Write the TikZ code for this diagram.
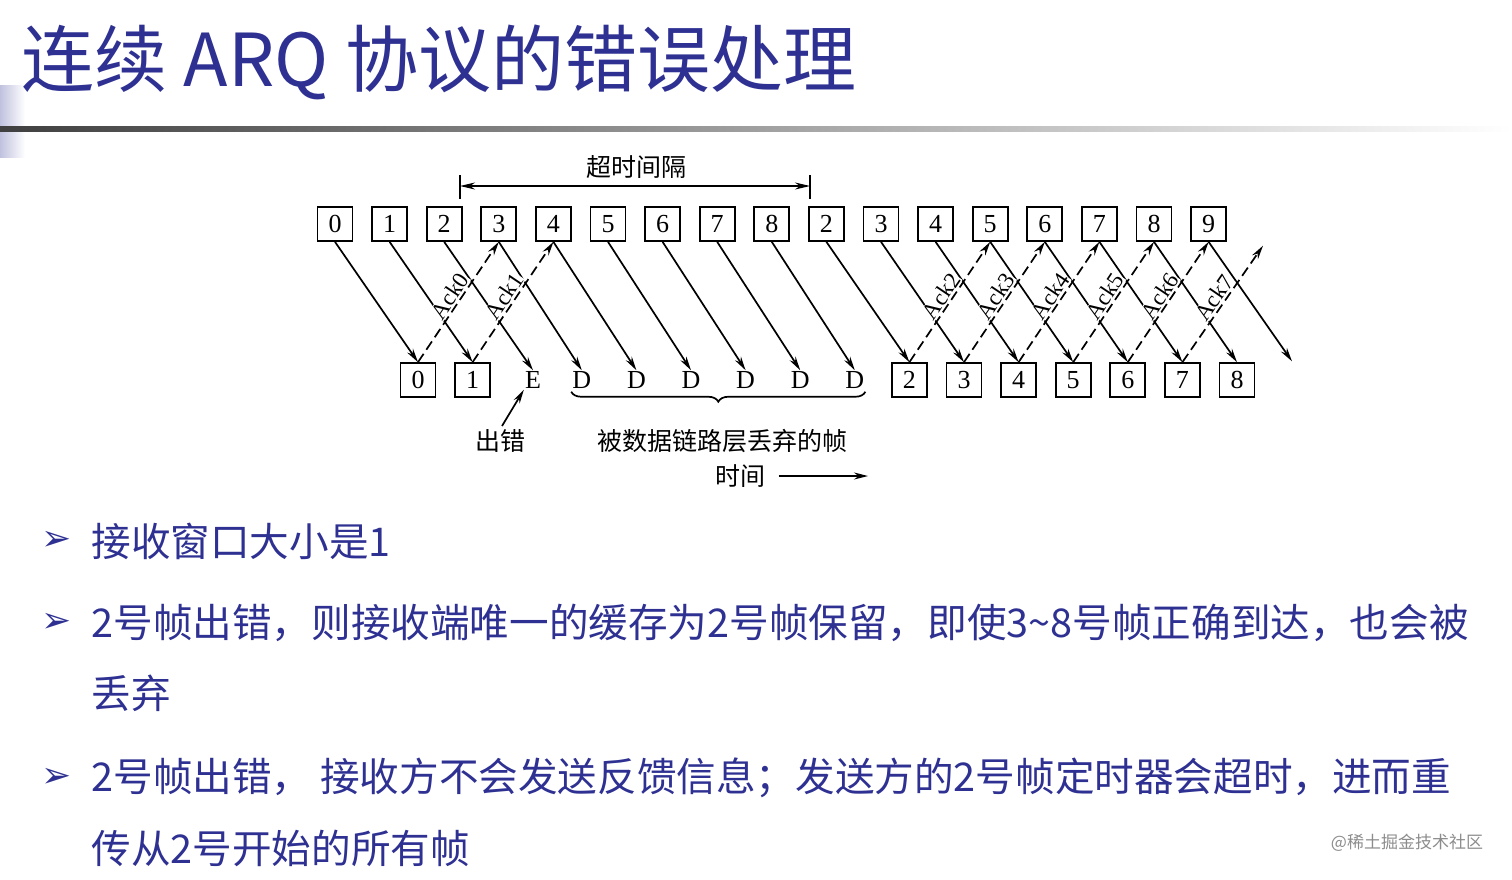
\documentclass[tikz,border=0pt]{standalone}
\usepackage{fontspec}
\setmainfont{Liberation Serif}
\newfontfamily\cjk{Noto Sans CJK SC}
\newfontfamily\symb{DejaVu Sans}
\usetikzlibrary{arrows.meta,decorations.pathreplacing}
\definecolor{navy}{RGB}{46, 49, 146}
\tikzset{%
    frame/.style={draw, line width=1.7pt, minimum width=35pt, minimum height=34pt,
        inner sep=0pt, font=\fontsize{26}{26}\selectfont},
    plain/.style={inner sep=1pt, font=\fontsize{26}{26}\selectfont},
    data/.style={line width=1.7pt, -{Stealth[length=14pt, width=7pt]}},
    ack/.style={line width=1.7pt, dash pattern=on 10pt off 5pt, -{Stealth[length=14pt, width=7pt]}},
    acklab/.style={sloped, above=1pt, pos=0.5, fill=white, inner sep=0.5pt,
        font=\fontsize{23}{23}\selectfont},
    label/.style={font=\cjk\fontsize{25}{25}\selectfont},
    bullet/.style={anchor=west, text=navy, font=\cjk\fontsize{39.6}{40}\selectfont},
    arrowmark/.style={text=navy, font=\symb\bfseries\fontsize{36}{36}\selectfont}
}
\begin{document}
\begin{tikzpicture}[x=1pt, y=-1pt]
    \useasboundingbox (0, 0) rectangle (1512, 879);

    % Title and rule
    \shade[left color=navy!30, right color=white] (0, 85) rectangle (25, 157);
    \shade[left color=black!75, right color=white] (0, 126) rectangle (1512, 131);
    \node[anchor=west, text=navy, font=\cjk\fontsize{73}{73}\selectfont] (title)
        at (18, 62) {连续 ARQ 协议的错误处理};

    % Sender side
    \foreach \lab [count=\i from 0] in {0, 1, 2, 3, 4, 5, 6, 7, 8, 2, 3, 4, 5, 6, 7, 8, 9}{%
        \node[frame] (s\i) at (335 + 54.6*\i, 224) {\lab};
    };
    \node[inner sep=0pt] (s17) at (1263, 245) {};

    % Receiver side
    \node[frame] (r0) at (418, 380) {0};
    \node[frame] (r1) at (472.6, 380) {1};
    \node[plain] (r2) at (533, 380) {E};
    \foreach \j in {3, ..., 8}{%
        \node[plain] (r\j) at (418 + 54.6*\j, 380) {D};
    };
    \foreach \lab [count=\j from 9] in {2, 3, 4, 5, 6, 7, 8}{%
        \node[frame] (r\j) at (418 + 54.6*\j, 380) {\lab};
    };
    \node[inner sep=0pt] (r16) at (1292, 362) {};

    % Frames
    \foreach \i in {0, ..., 16}{%
        \draw[data] (s\i.south) -- (r\i.north);
    };

    % Acknowledgements
    \foreach \j/\k [evaluate=\j as \t using int(\j+3)] in {0/0, 1/1, 9/2, 10/3, 11/4, 12/5, 13/6, 14/7}{%
        \draw[ack] (r\j.north) -- node[acklab] {Ack\k} (s\t.south);
    };

    % Timeout interval
    \coordinate (tA) at (460, 186);
    \coordinate (tB) at (810, 186);
    \draw[line width=1.7pt] ([yshift=-13pt] tA) -- ([yshift=11pt] tA)
                             ([yshift=-13pt] tB) -- ([yshift=11pt] tB);
    \draw[line width=1.7pt, {Stealth[length=15pt, width=7pt]}-{Stealth[length=15pt, width=7pt]}]
        (tA) -- (tB);
    \node[label] (timeout) at (636, 167) {超时间隔};

    % Error and discarded frames
    \node[label] (err) at (500, 441) {出错};
    \draw[data] ([xshift=2pt] err.north) -- (r2.south west);
    \draw[line width=1.7pt, decorate, decoration={brace, mirror, amplitude=10pt}]
        ([yshift=-2pt] r3.south west) -- ([yshift=-2pt] r8.south east);
    \node[label] (drop) at (722, 441) {被数据链路层丢弃的帧};

    % Time axis
    \node[label] (time) at (740, 476) {时间};
    \coordinate (tend) at (868, 476);
    \draw[data] ([xshift=10pt] time.east) -- (tend);

    % Bullets
    \foreach \y in {541, 623, 778}{%
        \node[arrowmark] at (57, \y) {➢};
    };
    \node[bullet] (b1) at (88, 541) {接收窗口大小是1};
    \node[bullet] (b2) at (88, 623) {2号帧出错，则接收端唯一的缓存为2号帧保留，即使3\textasciitilde 8号帧正确到达，也会被};
    \node[bullet] (b2b) at (88, 693) {丢弃};
    \node[bullet] (b3) at (88, 778) {2号帧出错， 接收方不会发送反馈信息；发送方的2号帧定时器会超时，进而重};
    \node[bullet] (b3b) at (88, 848) {传从2号开始的所有帧};

    \node[text=black!45, font=\cjk\fontsize{17}{17}\selectfont] (wm) at (1407, 843) {@稀土掘金技术社区};
\end{tikzpicture}
\end{document}
